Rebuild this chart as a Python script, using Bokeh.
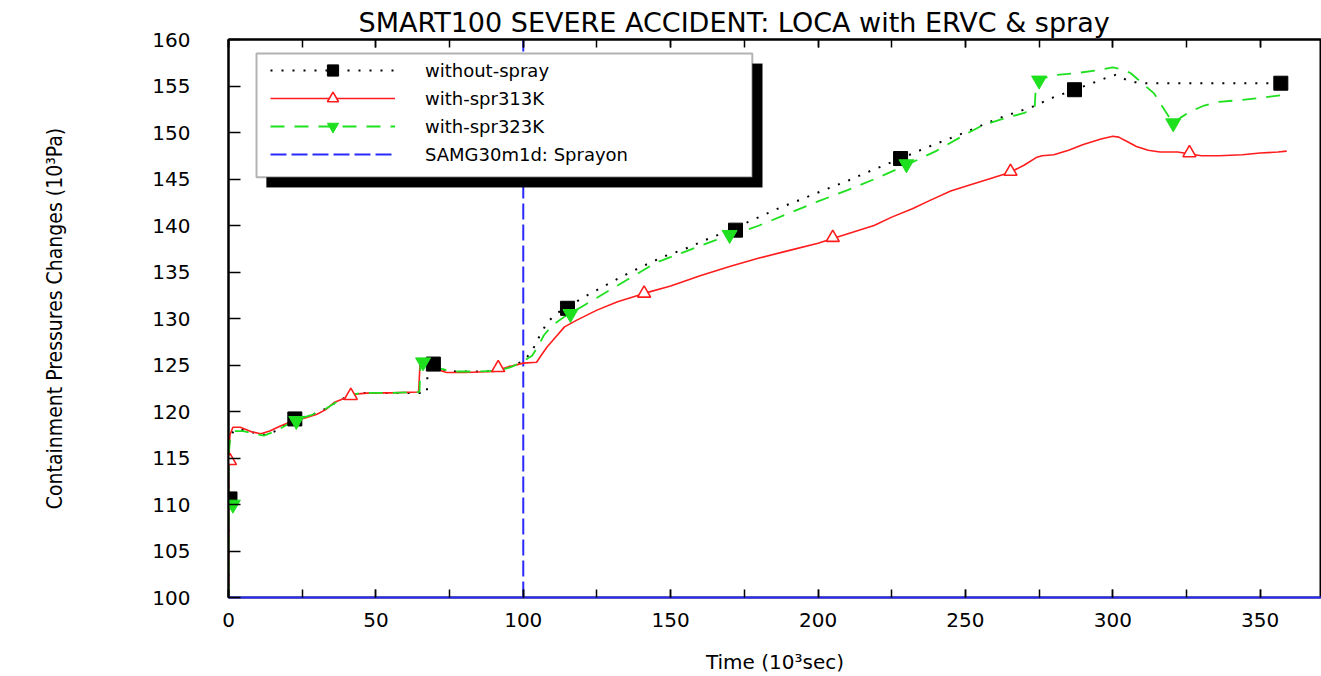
from bokeh.plotting import figure
from bokeh.models import (Range1d, SingleIntervalTicker, LinearAxis, Legend,
                          LegendItem, BoxAnnotation)
from bokeh.embed import file_html
from bokeh.resources import INLINE

TITLE = "SMART100 SEVERE ACCIDENT: LOCA with ERVC & spray"
X_LABEL = "Time (10³sec)"
Y_LABEL = "Containment Pressures Changes (10³Pa)"
LEGEND_LABELS = ["without-spray", "with-spr313K", "with-spr323K", "SAMG30m1d: Sprayon"]

# ---- without spray (black dotted) ----
nospray_x = [0, 0, 0, 0.5, 2, 5, 9, 12, 16, 20, 24, 28, 33, 37, 41, 45, 55, 67.3, 67.6,
             70, 73, 77, 85, 92, 96, 100, 103, 105, 108, 111, 115, 120, 127, 134, 141,
             148, 155, 163, 170, 180, 187, 195, 202, 210, 218, 228, 237, 249, 261, 273,
             280, 287, 293, 298, 301, 305, 309, 330, 357]
nospray_y = [100, 110.6, 116, 117.3, 118.0, 118.0, 117.7, 117.5, 117.9, 118.7, 119.3,
             119.6, 120.3, 121.1, 121.7, 122.0, 122.0, 122.0, 125.2, 125.1, 124.5,
             124.3, 124.3, 124.4, 124.9, 125.4, 126.5, 127.8, 129.5, 130.5, 131.2,
             132.2, 133.4, 134.6, 135.7, 136.7, 137.5, 138.6, 139.5, 140.9, 141.9,
             142.9, 143.8, 144.8, 145.9, 147.2, 148.4, 149.9, 151.5, 152.8, 153.8,
             154.6, 155.3, 155.9, 156.2, 155.6, 155.3, 155.3, 155.3]
nospray_mx = [0.5, 22.5, 69.5, 115, 172, 228, 287, 357]
nospray_my = [110.6, 119.2, 125.1, 131.1, 139.5, 147.2, 154.6, 155.3]

# ---- with spray 313K (red solid) ----
spr313_x = [0, 0, 0.5, 1.5, 4, 8, 11, 14, 18, 22, 26, 30, 33, 36, 40, 44, 48, 55, 64.5,
            65, 66, 70, 74, 80, 90, 95, 100, 104.5, 106, 108, 111, 114, 118, 125, 132,
            141, 150, 160, 170, 180, 190, 200, 205, 212, 219, 225, 232, 238, 245, 252,
            258, 265, 270, 274, 276, 280, 285, 290, 296, 300, 302, 305, 308, 312, 316,
            322, 330, 336, 344, 350, 356, 359]
spr313_y = [100, 115, 117.5, 118.3, 118.3, 117.8, 117.6, 117.9, 118.5, 119.0, 119.3,
            119.7, 120.2, 121.0, 121.5, 121.9, 122.0, 122.0, 122.1, 125.3, 125.3, 124.6,
            124.2, 124.2, 124.3, 124.8, 125.2, 125.3, 126.0, 126.9, 128.0, 129.1, 129.8,
            130.9, 131.8, 132.7, 133.5, 134.6, 135.6, 136.5, 137.3, 138.1, 138.6, 139.3,
            140.0, 140.9, 141.8, 142.7, 143.7, 144.4, 145.0, 145.7, 146.5, 147.3, 147.5,
            147.6, 148.1, 148.7, 149.3, 149.6, 149.5, 149.0, 148.5, 148.1, 147.9, 147.9,
            147.5, 147.5, 147.6, 147.8, 147.9, 148.0]
spr313_mx = [0.5, 41.5, 91.5, 141, 205, 265.3, 326]
spr313_my = [114.7, 121.7, 124.7, 132.7, 138.7, 145.8, 147.8]

# ---- with spray 323K (green dashed) ----
spr323_x = [0, 0, 0.5, 2, 5, 9, 12, 16, 20, 24, 28, 33, 37, 41, 45, 55, 64.8, 65.2, 68,
            72, 76, 85, 92, 96, 100, 103, 105, 107, 110, 114, 120, 128, 136, 145, 155,
            165, 172, 180, 190, 200, 210, 220, 230, 240, 250, 256, 263, 270, 273.5, 274,
            276, 281, 288, 295, 300, 303, 306, 310, 314, 318, 320.5, 323, 326, 331, 336,
            344, 352, 357]
spr323_y = [100, 115, 117.0, 117.9, 117.9, 117.6, 117.4, 117.9, 118.6, 119.2, 119.6,
            120.3, 121.1, 121.7, 122.0, 122.0, 122.1, 125.5, 125.2, 124.6, 124.3, 124.3,
            124.4, 124.8, 125.4, 126.0, 127.0, 128.2, 129.3, 130.2, 131.3, 132.8, 134.3,
            136.0, 137.2, 138.4, 139.1, 140.0, 141.3, 142.6, 143.8, 145.1, 146.5, 148.0,
            149.8, 150.8, 151.5, 152.1, 152.7, 155.6, 155.8, 156.2, 156.4, 156.7, 157.0,
            156.8, 156.4, 155.3, 154.2, 152.2, 151.0, 151.6, 152.2, 152.9, 153.3, 153.5,
            153.8, 154.0]
spr323_mx = [1.5, 23, 66, 116, 170, 230, 275, 320.5]
spr323_my = [110.0, 119.0, 125.3, 130.5, 139.0, 146.6, 155.6, 151.0]

# ---- spray on time ----
spray_on_x = [100, 100]
spray_on_y = [100, 160]

X_END = 370.8
BLACK = "#000000"
RED = "#ff1c1c"
GREEN = "#1fe01f"
BLUE = "#2a2aff"

p = figure(width=1321, height=676, x_range=Range1d(0, X_END), y_range=Range1d(100, 160),
           output_backend="svg", toolbar_location=None,
           min_border_left=228, min_border_right=0, min_border_top=39,
           min_border_bottom=79)
p.grid.visible = False
p.outline_line_color = "black"
p.outline_line_width = 2
p.background_fill_color = "white"
p.border_fill_color = "white"

p.title.text = TITLE
p.title.text_font = "DejaVu Sans"
p.title.text_font_size = "27px"
p.title.text_font_style = "normal"
p.title.text_color = "black"
p.title.align = "left"
p.title.offset = 130
p.title.standoff = 4

# x axis
xa = p.xaxis[0]
xa.ticker = SingleIntervalTicker(interval=50, num_minor_ticks=2)
xa.axis_line_color = BLUE
xa.axis_line_width = 2
xa.major_tick_in = 8
xa.major_tick_out = 0
xa.minor_tick_in = 8
xa.minor_tick_out = 0
xa.major_tick_line_color = "black"
xa.minor_tick_line_color = "black"
xa.major_tick_line_width = 1.5
xa.minor_tick_line_width = 1.5
xa.major_label_standoff = 15
xa.major_label_text_font = "DejaVu Sans"
xa.major_label_text_font_size = "20px"
xa.major_label_text_color = "black"
xa.axis_label = X_LABEL
xa.axis_label_text_font = "DejaVu Sans"
xa.axis_label_text_font_size = "20px"
xa.axis_label_text_font_style = "normal"
xa.axis_label_text_color = "black"
xa.axis_label_standoff = 20

# y axis
ya = p.yaxis[0]
ya.ticker = SingleIntervalTicker(interval=5, num_minor_ticks=0)
ya.axis_line_color = "black"
ya.axis_line_width = 2
ya.major_tick_in = 12
ya.major_tick_out = 0
ya.minor_tick_line_color = None
ya.major_tick_line_color = "black"
ya.major_tick_line_width = 1.5
ya.major_label_standoff = 38
ya.major_label_text_font = "DejaVu Sans"
ya.major_label_text_font_size = "20px"
ya.major_label_text_color = "black"
ya.axis_label = Y_LABEL
ya.axis_label_text_font = "DejaVu Sans Condensed"
ya.axis_label_text_font_size = "21px"
ya.axis_label_text_font_style = "normal"
ya.axis_label_text_color = "black"
ya.axis_label_standoff = 82

# top axis with inward ticks only
top = LinearAxis(ticker=SingleIntervalTicker(interval=50, num_minor_ticks=2),
                 major_label_overrides={v: "" for v in range(0, 400, 50)},
                 major_tick_in=8, major_tick_out=0, minor_tick_in=8, minor_tick_out=0,
                 major_label_standoff=0, major_label_text_font_size="1px",
                 axis_line_color="black", axis_line_width=2,
                 major_tick_line_width=1.5, minor_tick_line_width=1.5)
p.add_layout(top, "above")

# curves
r_sp = p.line(spray_on_x, spray_on_y, line_color=BLUE, line_width=2, line_dash="16 5")
r_nl = p.line(nospray_x, nospray_y, line_color=BLACK, line_width=2, line_dash="2 9")
r_rl = p.line(spr313_x, spr313_y, line_color=RED, line_width=1.6)
r_gl = p.line(spr323_x, spr323_y, line_color=GREEN, line_width=1.8, line_dash="14 10")

r_nm = p.scatter(nospray_mx, nospray_my, marker="square", size=14, fill_color=BLACK,
                 line_color=BLACK)
r_rm = p.scatter(spr313_mx, spr313_my, marker="triangle", size=13, fill_color="white",
                 line_color=RED, line_width=1.6)
r_gm = p.scatter(spr323_mx, spr323_my, marker="inverted_triangle", size=15,
                 fill_color=GREEN, line_color=GREEN)

# legend box with shadow
shadow = BoxAnnotation(left=12.9, right=181.1, top=157.4, bottom=144.1,
                       fill_color="black", fill_alpha=1, line_color="black",
                       level="annotation")
box = BoxAnnotation(left=9.5, right=177.7, top=158.5, bottom=145.2,
                    fill_color="white", fill_alpha=1, line_color="black",
                    line_width=2, level="annotation")
p.add_layout(shadow)
p.add_layout(box)

legend = Legend(items=[
    LegendItem(label=LEGEND_LABELS[0], renderers=[r_nl, r_nm]),
    LegendItem(label=LEGEND_LABELS[1], renderers=[r_rl, r_rm]),
    LegendItem(label=LEGEND_LABELS[2], renderers=[r_gl, r_gm]),
    LegendItem(label=LEGEND_LABELS[3], renderers=[r_sp]),
], location=(36, 423), glyph_width=125, glyph_height=28, label_height=20,
    spacing=-1, padding=6, margin=0, label_standoff=30,
    label_text_font="DejaVu Sans", label_text_font_size="18px",
    label_text_color="black",
    border_line_alpha=0, background_fill_alpha=0)
p.add_layout(legend, "center")

open("out.html", "w").write(file_html(p, INLINE))
